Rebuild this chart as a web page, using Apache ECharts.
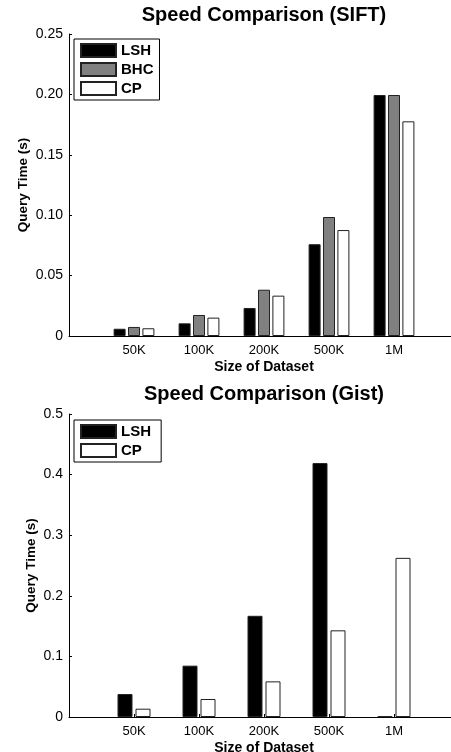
<!DOCTYPE html>
<html lang="en">
<head>
<meta charset="UTF-8">
<title>Speed Comparison</title>
<script src="https://cdn.jsdelivr.net/npm/echarts@6/dist/echarts.min.js"></script>
<style>
  html, body { margin: 0; padding: 0; background: #fff; }
  #chart { width: 451px; height: 752px; }
</style>
</head>
<body>
<div id="chart"></div>
<script>
// data
var sizes = ['50K', '100K', '200K', '500K', '1M'];

var siftLSH = [0.006, 0.0105, 0.0232, 0.076, 0.1995];
var siftBHC = [0.0075, 0.0174, 0.0383, 0.0985, 0.1995];
var siftCP  = [0.0064, 0.0152, 0.0334, 0.0877, 0.1777];

var gistLSH = [0.0379, 0.0847, 0.167, 0.419, 0.001];
var gistCP  = [0.0137, 0.0297, 0.0588, 0.143, 0.2626];

var siftTicks = [0, 0.05, 0.10, 0.15, 0.20, 0.25];
var gistTicks = [0, 0.1, 0.2, 0.3, 0.4, 0.5];

// axis runs from 0 to 6, categories sit on 1..5 (right end is cut off by the canvas)
var xCats = [''].concat(sizes, ['']);
function pad(arr) { return [null].concat(arr, [null]); }

var FONT = 'Liberation Sans';

function xAxisFor(idx) {
  return {
    type: 'category', gridIndex: idx, data: xCats, boundaryGap: false,
    axisLine: { lineStyle: { color: '#000', width: 1 } },
    axisTick: { inside: true, length: 3, lineStyle: { color: '#000' } },
    axisLabel: { color: '#000', fontFamily: FONT, fontSize: 13, margin: 8 },
    name: 'Size of Dataset', nameLocation: 'middle', nameGap: 24,
    nameTextStyle: { color: '#000', fontFamily: FONT, fontSize: 14, fontWeight: 'bold' },
    splitLine: { show: false }
  };
}

function yAxisFor(idx, ticks, fmt, gap) {
  return {
    type: 'value', gridIndex: idx,
    min: ticks[0], max: ticks[ticks.length - 1], interval: ticks[1] - ticks[0],
    axisLine: { show: true, lineStyle: { color: '#000', width: 1 } },
    axisTick: { show: true, inside: true, length: 3, lineStyle: { color: '#000' } },
    axisLabel: {
      color: '#000', fontFamily: FONT, fontSize: 14, margin: 6,
      formatter: function (v) { return v === 0 ? '0' : v.toFixed(fmt); }
    },
    splitLine: { show: false },
    name: 'Query Time (s)', nameLocation: 'middle', nameGap: gap, nameMoveOverlap: false,
    nameTextStyle: { color: '#000', fontFamily: FONT, fontSize: 13.5, fontWeight: 'bold' }
  };
}

function bar(name, data, color, idx, width) {
  return {
    name: name, type: 'bar', xAxisIndex: idx, yAxisIndex: idx,
    data: pad(data), barWidth: width, barGap: '20%',
    itemStyle: { color: color, borderColor: '#222', borderWidth: 1 },
    emphasis: { disabled: true }
  };
}

var legendText = { color: '#000', fontFamily: FONT, fontSize: 15, fontWeight: 'bold' };

var chart = echarts.init(document.getElementById('chart'));
chart.setOption({
  animation: false,
  backgroundColor: '#fff',
  title: [
    { text: 'Speed Comparison (SIFT)', left: 259, top: 0, textAlign: 'center',
      textStyle: { color: '#000', fontFamily: FONT, fontSize: 20, fontWeight: 'bold' } },
    { text: 'Speed Comparison (Gist)', left: 259, top: 379, textAlign: 'center',
      textStyle: { color: '#000', fontFamily: FONT, fontSize: 20, fontWeight: 'bold' } }
  ],
  legend: [
    { data: ['LSH', 'BHC', 'CP'], orient: 'vertical', left: 74, top: 39,
      icon: 'rect', itemWidth: 35, itemHeight: 13, itemGap: 4,
      borderColor: '#000', borderWidth: 1, padding: [4, 6, 4, 6],
      textStyle: legendText, selectedMode: false },
    { data: ['LSH ', 'CP '], orient: 'vertical', left: 74, top: 420,
      icon: 'rect', itemWidth: 35, itemHeight: 13, itemGap: 4,
      borderColor: '#000', borderWidth: 1, padding: [4, 6, 4, 6],
      textStyle: legendText, selectedMode: false }
  ],
  grid: [
    { left: 69, top: 34, right: -8, height: 302, outerBoundsMode: 'none' },
    { left: 69, top: 414, right: -8, height: 303, outerBoundsMode: 'none' }
  ],
  xAxis: [xAxisFor(0), xAxisFor(1)],
  yAxis: [yAxisFor(0, siftTicks, 2, 39), yAxisFor(1, gistTicks, 1, 31)],
  series: [
    bar('LSH', siftLSH, '#000', 0, 12),
    bar('BHC', siftBHC, '#808080', 0, 12),
    bar('CP', siftCP, '#fff', 0, 12),
    bar('LSH ', gistLSH, '#000', 1, 15),
    bar('CP ', gistCP, '#fff', 1, 15)
  ]
});
</script>
</body>
</html>
